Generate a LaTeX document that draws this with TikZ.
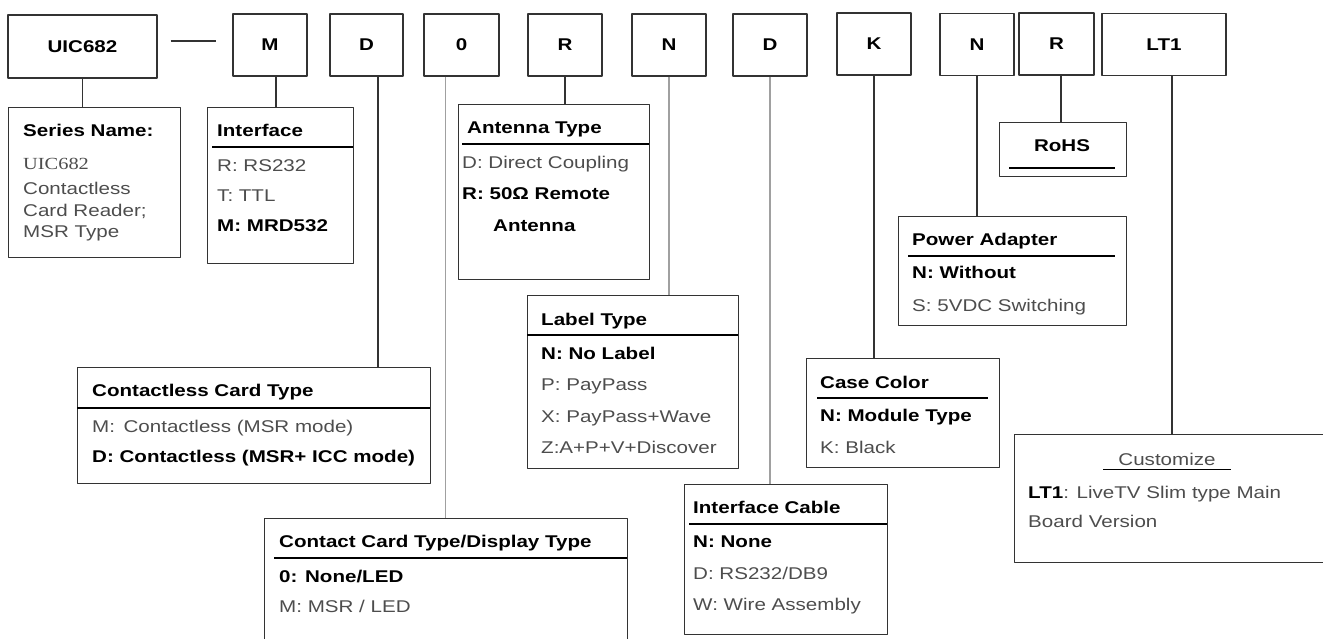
\documentclass[tikz,border=0pt]{standalone}
\usepackage{fontspec}
\setmainfont{Liberation Sans}[FakeStretch=1.21]
\newfontfamily\timesfont{Liberation Serif}[FakeStretch=1.2]
\usetikzlibrary{calc}
\definecolor{boxgray}{HTML}{333333}
\definecolor{optgray}{HTML}{4D4D4D}
\definecolor{palegray}{HTML}{A0A0A0}
\newcommand{\fs}{\fontsize{17}{20}\selectfont}

\begin{document}
\begin{tikzpicture}[x=1pt,y=-1pt,line join=round,
  code/.style={draw=boxgray,line width=1.2pt,minimum height=62pt,inner sep=0pt,font=\fs\bfseries},
  box/.style={draw=boxgray,line width=1.2pt,inner sep=0pt,anchor=north west},
  conn/.style={line width=1.1pt},
  rule/.style={line width=1.4pt},
  head/.style={anchor=base west,inner sep=0pt,font=\fs\bfseries},
  opt/.style={anchor=base west,inner sep=0pt,font=\fs,text=optgray},
  sel/.style={anchor=base west,inner sep=0pt,font=\fs\bfseries}]
\useasboundingbox (0,0) rectangle (1323,639);

% part number
\node[code,minimum width=149pt,minimum height=63pt] (uic) at (82.5,46.5) {UIC682};
\node[code,minimum width=74pt] (cm)  at (270,45)    {M};
\node[code,minimum width=73pt] (cd)  at (366.5,45)  {D};
\node[code,minimum width=75pt] (cz)  at (461.5,45)  {0};
\node[code,minimum width=74pt] (cr)  at (565,45)    {R};
\node[code,minimum width=74pt] (cn)  at (669,45)    {N};
\node[code,minimum width=74pt] (cd2) at (770,45)    {D};
\node[code,minimum width=74pt] (ck)  at (874,44)    {K};
\node[code,minimum width=74pt] (cn2) at (977,44.5)  {N};
\node[code,minimum width=75pt] (cr2) at (1056.5,44) {R};
\node[code,minimum width=124pt] (clt) at (1164,44.5) {LT1};
\draw[conn,boxgray] ([xshift=13pt,yshift=4pt]cm.west -| uic.east) -- ([xshift=-16pt,yshift=4pt]cm.west);

% option boxes
\node[box,minimum width=172pt,minimum height=150pt] (series)  at (8,107) {};
\node[box,minimum width=146pt,minimum height=156pt] (iface)   at (207,107) {};
\node[box,minimum width=191pt,minimum height=175pt] (antenna) at (458,104) {};
\node[box,minimum width=127pt,minimum height=54pt]  (rohs)    at (999,122) {};
\node[box,minimum width=228pt,minimum height=109pt] (power)   at (898,216) {};
\node[box,minimum width=353pt,minimum height=116pt] (cless)   at (77,367) {};
\node[box,minimum width=363pt,minimum height=150pt] (contact) at (264,518) {};
\node[box,minimum width=211pt,minimum height=173pt] (label)   at (527,295) {};
\node[box,minimum width=193pt,minimum height=109pt] (case)    at (806,358) {};
\node[box,minimum width=203pt,minimum height=150pt] (cable)   at (684,484) {};
\node[box,minimum width=316pt,minimum height=128pt] (custom)  at (1014,434) {};

\foreach \a/\b/\dx/\c in {uic/series/0/boxgray, cm/iface/6/boxgray, cd/cless/11.5/boxgray,
  cz/contact/-16/palegray, cr/antenna/0/boxgray, cn/label/0/palegray, cd2/cable/0/palegray,
  ck/case/0/boxgray, cn2/power/0/boxgray, cr2/rohs/4.5/boxgray, clt/custom/8/boxgray}
  \draw[conn,\c] ([xshift=\dx pt]\a.south) -- ([xshift=\dx pt]\a.south |- \b.north);

% header rules
\draw[rule] (212,147) -- (353,147);
\draw[rule] (462,144) -- (649,144);
\draw[rule,line width=2pt] (1009,168) -- (1115,168);
\draw[rule] (908,256) -- (1115,256);
\draw[rule,line width=1.1pt] (77,408) -- (430,408);
\draw[rule] (274,558) -- (627,558);
\draw[rule] (527,335) -- (738,335);
\draw[rule,line width=2pt] (817,398) -- (988,398);
\draw[rule] (689,524) -- (887,524);
\draw[line width=1pt] (1103,469) -- (1231,469);

% texts
\node[head] (series-h) at (23,137) {Series Name:};
\node[opt,font=\timesfont\fontsize{17}{20}\selectfont] (series-1) at (23,170) {UIC682};
\node[opt] (series-2) at (23,195) {Contactless};
\node[opt] (series-3) at (23,217) {Card Reader;};
\node[opt] (series-4) at (23,238) {MSR Type};

\node[head] (iface-h) at (217,137) {Interface};
\node[opt] (iface-1) at (217,172) {R: RS232};
\node[opt] (iface-2) at (217,202) {T: TTL};
\node[sel] (iface-3) at (217,232) {M: MRD532};

\node[head] (antenna-h) at (467,134) {Antenna Type};
\node[opt] (antenna-1) at (462,169) {D: Direct Coupling};
\node[sel] (antenna-2) at (462,200) {R: 50Ω Remote};
\node[sel] (antenna-3) at (493,232) {Antenna};

\node[head,anchor=base] (rohs-h) at (1062,152) {RoHS};

\node[head] (power-h) at (912,246) {Power Adapter};
\node[sel] (power-1) at (912,279) {N: Without};
\node[opt] (power-2) at (912,311) {S: 5VDC Switching};

\node[head] (cless-h) at (92,396) {Contactless Card Type};
\node[opt] (cless-1) at (92,432) {M:\, Contactless (MSR mode)};
\node[sel] (cless-2) at (92,462) {D: Contactless (MSR+ ICC mode)};

\node[head] (contact-h) at (279,547) {Contact Card Type/Display Type};
\node[sel] (contact-1) at (279,582) {0: None/LED};
\node[opt] (contact-2) at (279,612) {M: MSR / LED};

\node[head] (label-h) at (541,325) {Label Type};
\node[sel] (label-1) at (541,359) {N: No Label};
\node[opt] (label-2) at (541,390) {P: PayPass};
\node[opt] (label-3) at (541,422) {X: PayPass+Wave};
\node[opt] (label-4) at (541,453) {Z:A+P+V+Discover};

\node[head] (case-h) at (820,388) {Case Color};
\node[sel] (case-1) at (820,421) {N: Module Type};
\node[opt] (case-2) at (820,453) {K: Black};

\node[head] (cable-h) at (693,513) {Interface Cable};
\node[sel] (cable-1) at (693,547) {N: None};
\node[opt] (cable-2) at (693,579) {D: RS232/DB9};
\node[opt] (cable-3) at (693,610) {W: Wire Assembly};

\node[opt,anchor=base] (custom-h) at (1167,465) {Customize};
\node[opt] (custom-1) at (1028,498) {\textbf{\color{black}LT1}: LiveTV Slim type Main};
\node[opt] (custom-2) at (1028,527) {Board Version};
\end{tikzpicture}
\end{document}
